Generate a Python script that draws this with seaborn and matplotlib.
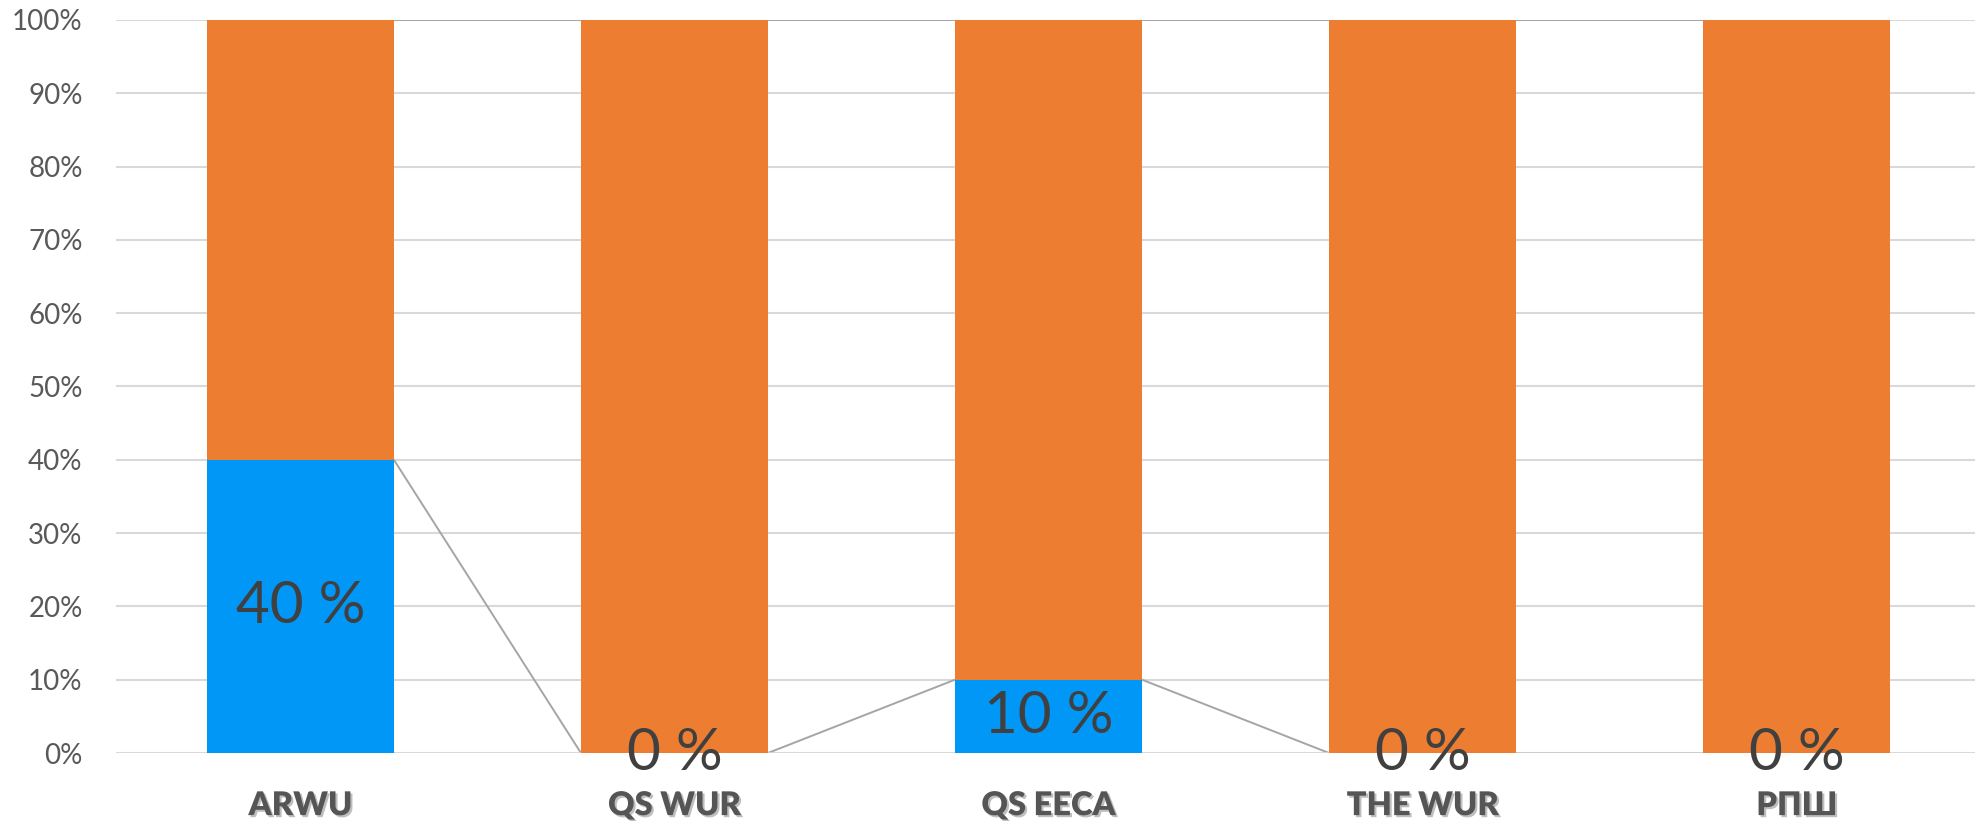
import matplotlib
matplotlib.use("Agg")
import matplotlib.pyplot as plt
import matplotlib.patheffects as pe
from matplotlib.ticker import FixedLocator
import seaborn as sns
import pandas as pd

categories = ["ARWU", "QS WUR", "QS EECA", "THE WUR", "РПШ"]
blue_share = [40, 0, 10, 0, 0]
orange_share = [60, 100, 90, 100, 100]
y_ticks = [0, 10, 20, 30, 40, 50, 60, 70, 80, 90, 100]
y_tick_labels = [f"{t}%" for t in y_ticks]

BLUE = "#0197F6"
ORANGE = "#ED7D31"
GRID = "#D9D9D9"
SERIES_LINE = "#A5A5A5"

sns.set_theme(style="white")
plt.rcParams["font.family"] = ["Lato", "DejaVu Sans"]

df = pd.DataFrame({
    "cat": categories,
    "blue": [b / 100 for b in blue_share],
    "total": [(b + o) / 100 for b, o in zip(blue_share, orange_share)],
})

fig = plt.figure(figsize=(19.75, 8.21), dpi=100)
ax = fig.add_axes([116 / 1975, 68 / 821, 1 - 116 / 1975, (753 - 20) / 821])

ax.set_axisbelow(True)
ax.yaxis.grid(True, color=GRID, linewidth=1.5)
ax.xaxis.grid(False)

sns.barplot(data=df, x="cat", y="total", color=ORANGE, width=0.5,
            saturation=1, linewidth=0, ax=ax, zorder=2)
sns.barplot(data=df, x="cat", y="blue", color=BLUE, width=0.5,
            saturation=1, linewidth=0, ax=ax, zorder=3)

# series lines connecting segment tops between adjacent bars
half = 0.25
for series in (df["blue"].tolist(), df["total"].tolist()):
    for i in range(len(categories) - 1):
        ax.plot([i + half, i + 1 - half], [series[i], series[i + 1]],
                color=SERIES_LINE, linewidth=1.4, zorder=1.5,
                solid_capstyle="butt")
# horizontal category axis line drawn over series lines
ax.axhline(0, color=GRID, linewidth=1.8, zorder=1.7)

# data labels for the blue series
for i, v in enumerate(blue_share):
    ax.text(i, (v / 100) / 2, f"{v} %", ha="center", va="center",
            fontsize=42, color="#404040", zorder=5)

ax.set_ylim(0, 1)
ax.set_xlim(-0.493, 4.477)
ax.yaxis.set_major_locator(FixedLocator([t / 100 for t in y_ticks]))
ax.set_yticklabels(y_tick_labels)
ax.tick_params(axis="y", length=0, pad=24, labelsize=20, labelcolor="#595959")
ax.tick_params(axis="x", length=0, pad=26, labelsize=23.5, labelcolor="#555555")
for lab in ax.get_xticklabels():
    lab.set_fontweight("heavy")
    lab.set_path_effects([
        pe.SimplePatchShadow(offset=(1.5, -1.5), shadow_rgbFace="#7f7f7f", alpha=0.5),
        pe.Normal(),
    ])
ax.set_xlabel("")
ax.set_ylabel("")
for s in ax.spines.values():
    s.set_visible(False)

fig.savefig("out.png", dpi=100)
